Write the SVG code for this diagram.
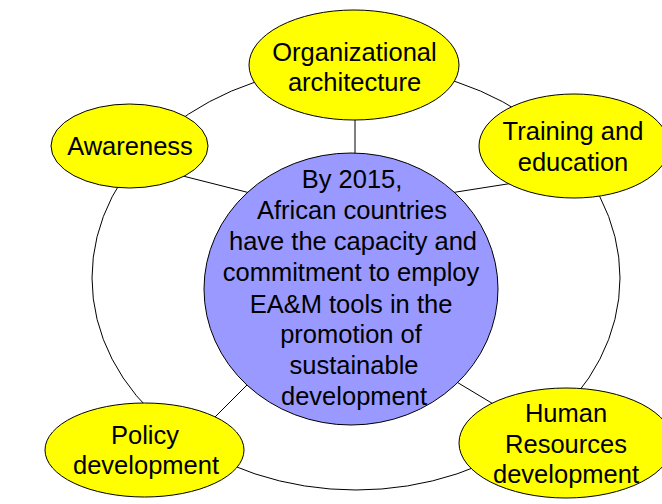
<svg xmlns="http://www.w3.org/2000/svg" width="662" height="504" viewBox="0 0 662 504">
<style>
.ring{fill:none;stroke:#000;stroke-width:1}
.link{stroke:#000;stroke-width:1}
.node{fill:#FFFF00;stroke:#000;stroke-width:1}
.core{fill:#9999FF;stroke:#000;stroke-width:1}
text{font-family:"Liberation Sans",Arial,sans-serif;font-size:25.5px;fill:#000;text-anchor:middle}
</style>
<rect width="662" height="504" fill="#fff"/>
<g id="connectors">
<ellipse class="ring" cx="356" cy="278" rx="264" ry="212"/>
<line class="link" x1="355" y1="110" x2="355" y2="160"/>
<line class="link" x1="175" y1="174" x2="258" y2="195"/>
<line class="link" x1="450" y1="193" x2="520" y2="182"/>
<line class="link" x1="205" y1="427" x2="258" y2="374"/>
<line class="link" x1="450" y1="378" x2="500" y2="408"/>
</g>
<g id="center">
<ellipse class="core" cx="351" cy="289" rx="147" ry="136"/>
<text x="352" y="188">By 2015,</text>
<text x="352" y="219">African countries</text>
<text x="353" y="250">have the capacity and</text>
<text x="351" y="281">commitment to employ</text>
<text x="351" y="313">EA&amp;M tools in the</text>
<text x="351" y="343">promotion of</text>
<text x="354" y="374">sustainable</text>
<text x="354" y="405">development</text>
</g>
<g id="organizational">
<ellipse class="node" cx="354" cy="65" rx="105" ry="55"/>
<text x="354.5" y="61">Organizational</text>
<text x="354.5" y="91">architecture</text>
</g>
<g id="awareness">
<ellipse class="node" cx="129.5" cy="146" rx="78.5" ry="42"/>
<text x="130" y="155">Awareness</text>
</g>
<g id="training">
<ellipse class="node" cx="574" cy="146" rx="95" ry="52"/>
<text x="573" y="140">Training and</text>
<text x="573" y="171">education</text>
</g>
<g id="policy">
<ellipse class="node" cx="144.5" cy="450" rx="99.5" ry="47"/>
<text x="145" y="444">Policy</text>
<text x="146" y="474">development</text>
</g>
<g id="human">
<ellipse class="node" cx="566" cy="443" rx="107" ry="55"/>
<text x="566" y="422">Human</text>
<text x="566" y="452.5">Resources</text>
<text x="566" y="483">development</text>
</g>
</svg>
